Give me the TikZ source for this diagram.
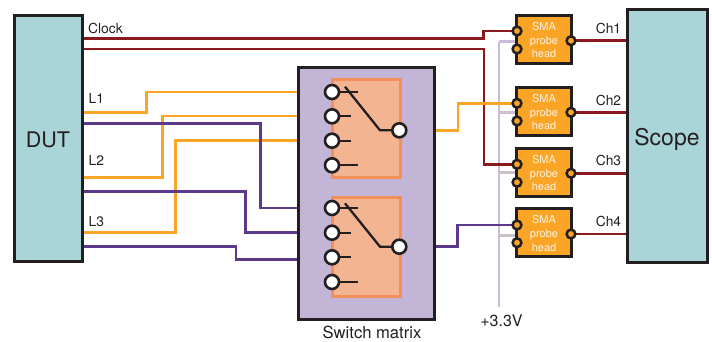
\documentclass[tikz,border=0pt]{standalone}
\usepackage{fontspec}
\setmainfont{TeX Gyre Heros}
\definecolor{teal}{HTML}{A9D4D8}
\definecolor{mat}{HTML}{C3B5D5}
\definecolor{org}{HTML}{FAA526}
\definecolor{sal}{HTML}{F2B491}
\definecolor{salb}{HTML}{F58F5A}
\definecolor{red}{HTML}{8B1A1E}
\definecolor{pur}{HTML}{5B3A8C}
\definecolor{blk}{HTML}{231F20}
\definecolor{pwr}{HTML}{C8BCDA}
\definecolor{pwrh}{HTML}{CBC1CC}
\tikzset{
 x=1pt,y=-1pt,
 boxn/.style={draw=blk,line width=3pt,inner sep=0pt,text=blk},
 switchbox/.style={draw=salb,fill=sal,line width=3pt,inner sep=0pt},
 term/.style={circle,draw=blk,fill=white,line width=2.6pt,minimum size=14pt,inner sep=0pt},
 pin/.style={circle,draw=blk,fill=org,line width=2.5pt,minimum size=8.8pt,inner sep=0pt},
 probe/.style={boxn,fill=org,text=white!85!org,minimum width=55pt,minimum height=48pt,align=center,font=\fontsize{11}{13.8}\selectfont},
 redw/.style={draw=red,line width=2.7pt},
 orgw/.style={draw=org,line width=2.7pt},
 purw/.style={draw=pur,line width=2.7pt},
 pwrw/.style={draw=pwr,line width=2.7pt},
 pwrs/.style={draw=pwrh,line width=2.7pt},
 swl/.style={draw=blk,line width=2.3pt},
 lab/.style={inner sep=0pt,text=blk,font=\fontsize{13.8}{15}\selectfont},
}
\newcommand{\boxat}[6]{\node[#1,minimum width=#5-#3,minimum height=#6-#4] (#2) at ({(#3+#5)/2},{(#4+#6)/2})}
\newcommand{\probetext}{\rule{0pt}{10.5pt}SMA\\probe\\head}
\begin{document}
\begin{tikzpicture}
\useasboundingbox (0,0) rectangle (712,341);
\coordinate (c1) at (82,38.5); \coordinate (c2) at (82,49);
\coordinate (l1) at (82,112.5); \coordinate (p1) at (82,123.5);
\coordinate (l2) at (82,177.7); \coordinate (p2) at (82,191.7);
\coordinate (l3) at (82,232.3); \coordinate (p3) at (82,246.7);
\coordinate (mo1) at (298,92); \coordinate (mo2) at (298,116); \coordinate (mo3) at (298,140.7);
\coordinate (mp1) at (298,208); \coordinate (mp2) at (298,232.7); \coordinate (mp3) at (298,259.3);
\coordinate (oo) at (434,130.3); \coordinate (op) at (434,246.7);
\coordinate (vT) at (499,41.7); \coordinate (vB) at (499,306.5);
% connectors first, so that boxes cover their ends
\draw[pwrw] (vT) -- (vB);
\draw[pwrw] (vT) -- (517,41.7);
\draw[pwrs] (499,112.3) -- (517,112.3);
\draw[pwrs] (499,172.3) -- (517,172.3);
\draw[pwrs] (499,235.7) -- (517,235.7);
\draw[redw] (c1) -- (483.5,38.5) -- (483.5,31) -- (517,31);
\draw[redw] (c2) -- (484,49) -- (484,164.3) -- (517,164.3);
\draw[orgw] (l1) -- (146.5,112.5) -- (146.5,92) -- (mo1);
\draw[orgw] (l2) -- (162.5,177.7) -- (162.5,116) -- (mo2);
\draw[orgw] (l3) -- (175.5,232.3) -- (175.5,140.7) -- (mo3);
\draw[purw] (p1) -- (260.5,123.5) -- (260.5,208) -- (mp1);
\draw[purw] (p2) -- (245.7,191.7) -- (245.7,232.7) -- (mp2);
\draw[purw] (p3) -- (236,246.7) -- (236,259.3) -- (mp3);
\draw[orgw] (oo) -- (458,130.3) -- (458,103.3) -- (517,103.3);
\draw[purw] (op) -- (457.3,246.7) -- (457.3,225) -- (517,225);
\draw[redw] (571,40.7) -- (627,40.7);
\draw[redw] (571,112.3) -- (627,112.3);
\draw[redw] (571,173.3) -- (627,173.3);
\draw[redw] (571,234) -- (627,234);
% nodes
\boxat{boxn,fill=teal,font=\fontsize{21.5}{23}\selectfont}{dut}{14}{15}{82}{261} {\raisebox{-9.7pt}[0pt][0pt]{DUT}};
\boxat{boxn,fill=teal,font=\fontsize{23}{25}\selectfont}{scope}{627}{9}{707}{262} {\raisebox{-10pt}[0pt][0pt]{Scope}};
\boxat{boxn,fill=mat}{sm}{298.3}{67.5}{434}{319.3} {};
\boxat{switchbox}{s1}{332}{79.5}{400}{177.5} {};
\boxat{switchbox}{s2}{332}{197}{400}{296.5} {};
\node[probe] (h1) at (544,39) {\probetext};
\node[probe] (h2) at (544,111) {\probetext};
\node[probe] (h3) at (544,172) {\probetext};
\node[probe] (h4) at (544,232.5) {\probetext};
\foreach \n/\y in {a/31,b/49} \node[pin] (h1\n) at (517,\y) {};
\foreach \n/\y in {a/103.3,b/121} \node[pin] (h2\n) at (517,\y) {};
\foreach \n/\y in {a/164.3,b/182.3} \node[pin] (h3\n) at (517,\y) {};
\foreach \n/\y in {a/225,b/242.7} \node[pin] (h4\n) at (517,\y) {};
\node[pin] (h1o) at (571,40.7) {};
\node[pin] (h2o) at (571,112.3) {};
\node[pin] (h3o) at (571,173.3) {};
\node[pin] (h4o) at (571,234) {};
% switches
\draw[swl] (332,92) -- (357.7,92) (332,116) -- (351,116) (332,140.7) -- (351,140.7) (332,165.3) -- (357.7,165.3);
\draw[swl] (345,86.7) -- (380,130.3) -- (399,130.3);
\draw[swl] (332,208) -- (357.7,208) (332,232.7) -- (351,232.7) (332,257.3) -- (351,257.3) (332,282) -- (357.7,282);
\draw[swl] (345,203.3) -- (380,246.7) -- (399,246.7);
\foreach \n/\y in {1/92,2/116.3,3/140.7,4/165.3} \node[term] (a\n) at (332,\y) {};
\node[term] (ao) at (399.3,130.3) {};
\foreach \n/\y in {1/208,2/232.7,3/257.3,4/282} \node[term] (b\n) at (332,\y) {};
\node[term] (bo) at (399.3,246.7) {};
% labels
\node[lab,anchor=west] (tclk) at (88,28.5) {Clock};
\node[lab,anchor=west] (tl1) at (88.5,98) {L1};
\node[lab,anchor=west] (tl2) at (88.5,160) {L2};
\node[lab,anchor=west] (tl3) at (88.5,221.5) {L3};
\node[lab] (tc1) at (608.5,28) {Ch1};
\node[lab] (tc2) at (608.5,100) {Ch2};
\node[lab] (tc3) at (608.5,160) {Ch3};
\node[lab] (tc4) at (608.5,221.5) {Ch4};
\node[lab,font=\fontsize{16.6}{18}\selectfont] (tsm) at (372,332.5) {Switch matrix};
\node[lab,font=\fontsize{16}{18}\selectfont] (tv) at (501.5,320.5) {+3.3V};
\end{tikzpicture}
\end{document}
